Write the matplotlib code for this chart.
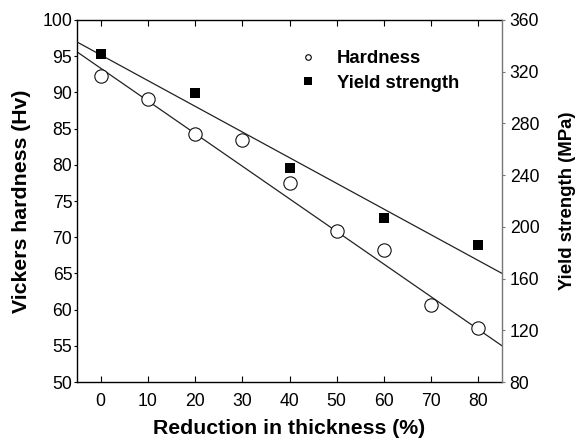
import matplotlib
matplotlib.use("Agg")
import matplotlib.pyplot as plt
from matplotlib.lines import Line2D

plt.rcParams['font.family'] = ['Liberation Sans', 'DejaVu Sans']

# Data
reduction_hardness = [0, 10, 20, 30, 40, 50, 60, 70, 80]
hardness = [92.2, 89.1, 84.2, 83.4, 77.5, 70.9, 68.3, 60.6, 57.4]
reduction_yield = [0, 20, 40, 60, 80]
yield_strength = [333.5, 303.8, 245.3, 206.6, 185.6]
# Fitted trend lines (endpoints)
fit_x = [-5, 85]
hardness_fit = [95.6, 55.0]
yield_fit = [343.0, 164.0]

x_ticks = [0, 10, 20, 30, 40, 50, 60, 70, 80]
left_ticks = [50, 55, 60, 65, 70, 75, 80, 85, 90, 95, 100]
right_ticks = [80, 120, 160, 200, 240, 280, 320, 360]

fig = plt.figure(figsize=(5.77, 4.40), dpi=100)
ax = fig.add_axes([77/577, 1-382/440, (502-77)/577, (382-20)/440])
ax2 = ax.twinx()

ax.plot(fit_x, hardness_fit, color='#222222', lw=0.9, zorder=1)
ax.plot(reduction_hardness, hardness, linestyle='none', marker='o', ms=9.6,
        mfc='white', mec='#111111', mew=0.8, zorder=3)
ax2.plot(fit_x, yield_fit, color='#222222', lw=0.9, zorder=1)
ax2.plot(reduction_yield, yield_strength, linestyle='none', marker='s', ms=7.2,
         mfc='black', mec='black', mew=0, zorder=3)

ax.set_xlim(-5, 85)
ax.set_ylim(50, 100)
ax2.set_ylim(80, 360)
ax.set_xticks(x_ticks)
ax.set_yticks(left_ticks)
ax2.set_yticks(right_ticks)

tick_fs = 12.7
ax.tick_params(axis='x', direction='in', top=True, bottom=True, length=4.2,
               width=0.8, pad=8, labelsize=tick_fs)
ax.tick_params(axis='y', direction='out', left=True, right=False, length=2.2,
               width=0.8, pad=1.2, labelsize=tick_fs)
ax2.tick_params(axis='y', direction='out', right=True, length=2.5, width=0.8,
                pad=3, labelsize=tick_fs, color='#777777')

for s in ['left', 'bottom', 'top']:
    ax.spines[s].set_linewidth(1.0)
    ax.spines[s].set_color('black')
ax.spines['right'].set_visible(False)
ax2.spines['right'].set_color('#777777')
ax2.spines['right'].set_linewidth(1.0)
for s in ['left', 'bottom', 'top']:
    ax2.spines[s].set_visible(False)

ax.set_xlabel('Reduction in thickness (%)', fontsize=15.3, fontweight='bold', labelpad=6.5)
ax.set_ylabel('Vickers hardness (Hv)', fontsize=15.3, fontweight='bold', labelpad=8)
ax2.set_ylabel('Yield strength (MPa)', fontsize=13.4, fontweight='bold', labelpad=14)

handles = [
    Line2D([], [], linestyle='none', marker='o', ms=4.0, mfc='white', mec='black', mew=0.8),
    Line2D([], [], linestyle='none', marker='s', ms=5.5, mfc='black', mec='black', mew=0),
]
leg = ax2.legend(handles, ['Hardness', 'Yield strength'], loc='upper left',
                 bbox_to_anchor=(298.7/577, 1-50/440), bbox_transform=fig.transFigure,
                 frameon=False, prop={'weight': 'bold', 'size': 13.3},
                 handlelength=1.0, handletextpad=1.07, labelspacing=0.42, borderpad=0,
                 borderaxespad=0)

fig.savefig('out.png', dpi=100)
